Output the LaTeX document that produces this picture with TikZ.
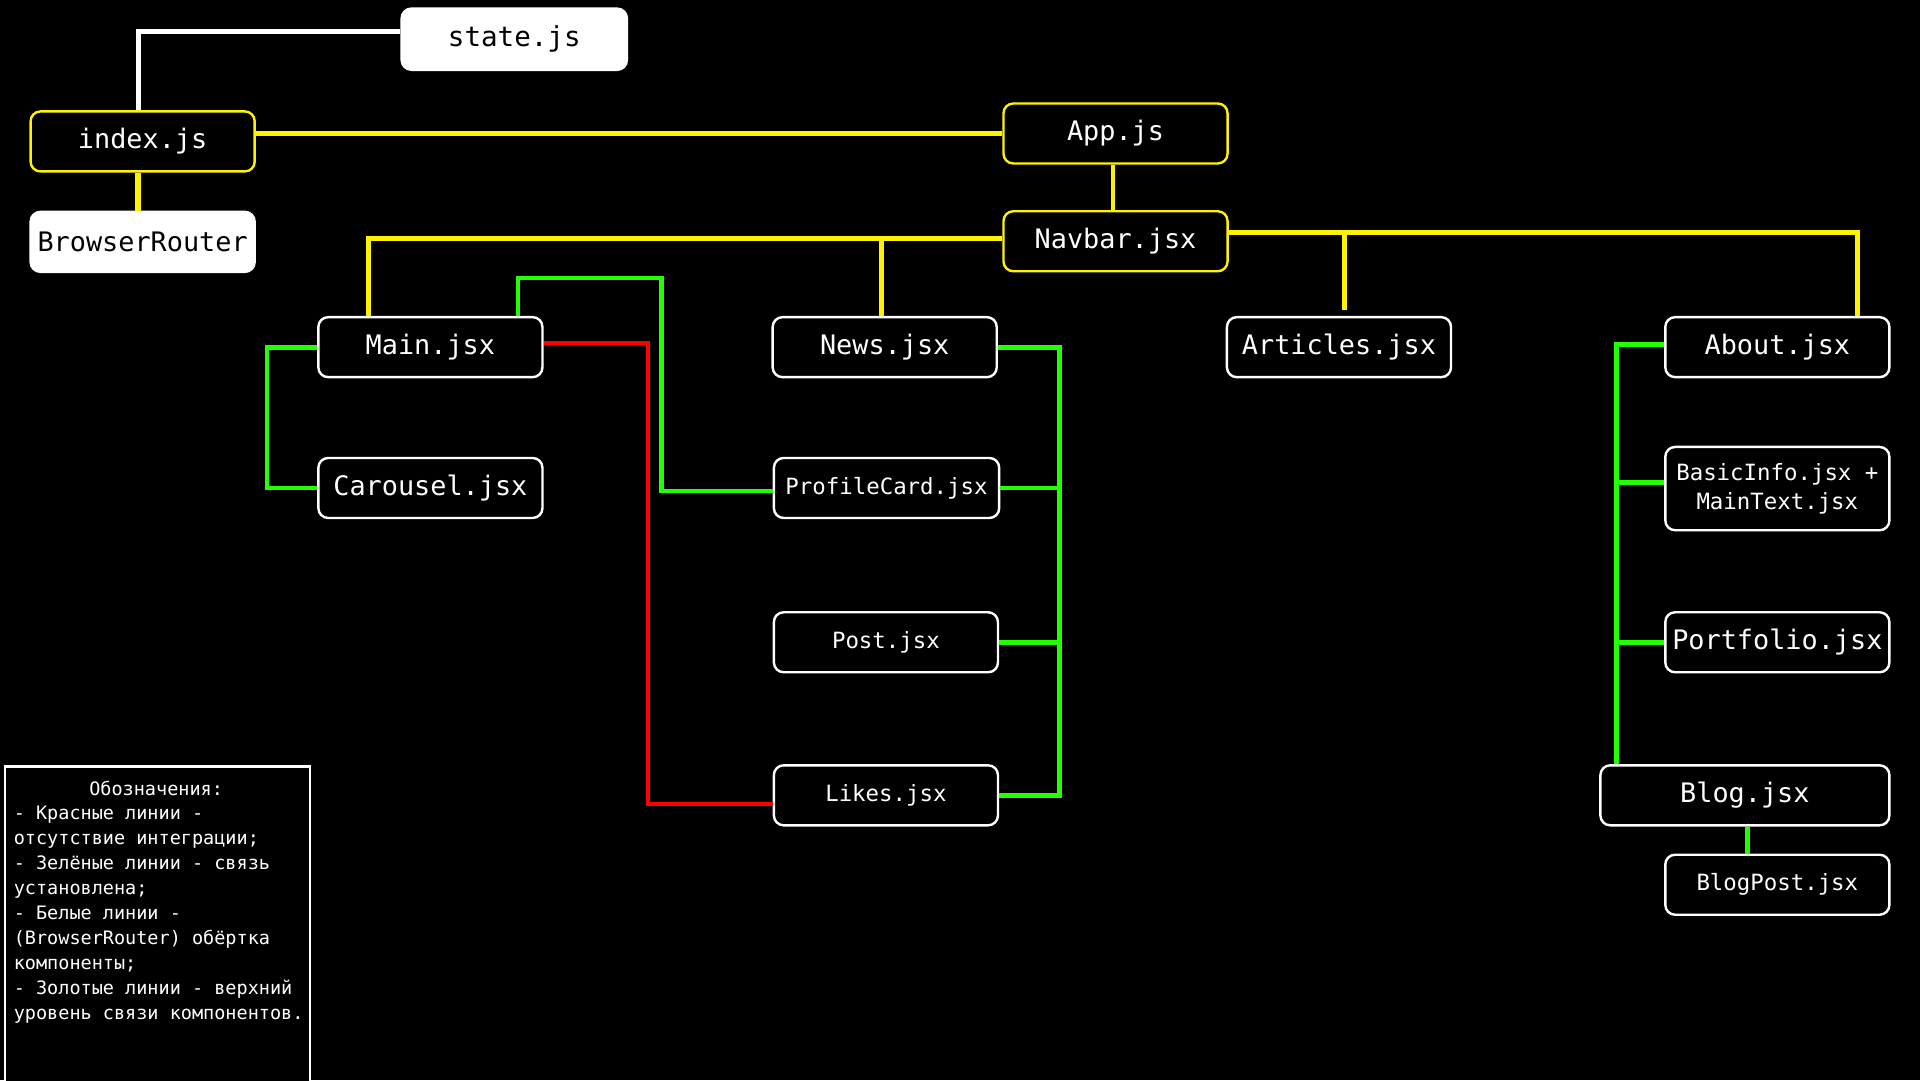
\documentclass[tikz,border=0pt]{standalone}
\usepackage{fontspec}
\setmonofont{DejaVu Sans Mono}
\usetikzlibrary{calc}
\definecolor{TreeGold}{HTML}{FFF200}
\definecolor{TreeGreen}{HTML}{22FF00}
\definecolor{TreeRed}{HTML}{FF0000}

\begin{document}
\begin{tikzpicture}[
  x=0.25mm, y=-0.25mm,
  file/.style={draw=white, fill=black, text=white, line width=1.4pt, rounded corners=2mm, minimum width=45.75mm, minimum height=12.25mm, inner sep=1mm, align=center, font=\ttfamily\fontsize{15.6}{18}\selectfont},
  smallfile/.style={file, font=\ttfamily\fontsize{13}{17}\selectfont},
  rootfile/.style={file, draw=TreeGold},
  paperfile/.style={file, draw=white, fill=white, text=black},
  legendframe/.style={draw=white, fill=black, line width=1.4pt, minimum width=62.25mm, minimum height=70mm, inner sep=0pt},
  legendtext/.style={text=white, inner sep=0pt, font=\ttfamily\fontsize{10.75}{14.5}\selectfont},
  goldline/.style={TreeGold, line width=2.8pt},
  greenline/.style={TreeGreen, line width=2.8pt},
  redline/.style={TreeRed, line width=2.6pt},
  wrapline/.style={white, line width=2.8pt},
]
\useasboundingbox (0,0) rectangle (1568,882);
\clip (0,0) rectangle (1568,882);
\fill[black] (0,0) rectangle (1568,882);

% entry files
\node[paperfile, minimum width=46mm, minimum height=12.5mm, font=\ttfamily\fontsize{16}{18}\selectfont] (state) at (420,32) {state.js};
\node[rootfile] (index) at (116.5,115.5) {index.js};
\node[paperfile] (router) at (116.5,197.5) {BrowserRouter};
\node[rootfile] (app) at (911,109) {App.js};
\node[rootfile] (navbar) at (911,197) {Navbar.jsx};

% pages
\node[file] (main) at (351.5,283.5) {Main.jsx};
\node[file] (news) at (722.5,283.5) {News.jsx};
\node[file] (articles) at (1093.5,283.5) {Articles.jsx};
\node[file] (about) at (1451.5,283.5) {About.jsx};

% components
\node[file] (carousel) at (351.5,398.5) {Carousel.jsx};
\node[smallfile, minimum width=46mm] (profile) at (724,398.5) {ProfileCard.jsx};
\node[smallfile] (post) at (723.5,524.5) {Post.jsx};
\node[smallfile] (likes) at (723.5,649.5) {Likes.jsx};
\node[smallfile, minimum height=17mm] (basic) at (1451.5,399) {BasicInfo.jsx +\\MainText.jsx};
\node[file] (portfolio) at (1451.5,524.5) {Portfolio.jsx};
\node[file, minimum width=59mm] (blog) at (1425,649.5) {Blog.jsx};
\node[smallfile] (blogpost) at (1451.5,722.5) {BlogPost.jsx};

% legend
\node[legendframe, anchor=north west] (legend) at (3,625) {};
\node[legendtext] (legtitle) at (127.5,644) {Обозначения:};
\node[legendtext, anchor=north west, align=left] (legbody) at (11,658) {- Красные линии -\\отсутствие интеграции;\\- Зелёные линии - связь\\установлена;\\- Белые линии -\\(BrowserRouter) обёртка\\компоненты;\\- Золотые линии - верхний\\уровень связи компонентов.};

\coordinate (carbus) at (218,0);
\coordinate (cardbend) at (540,227);
\coordinate (redbus) at (529,0);
\coordinate (newsbus) at (865,0);
\coordinate (aboutbus) at (1320,0);

% white
\draw[wrapline] ([shift={(-3.5,0)}]index.north) |- ([shift={(0,-6)}]state.west);

% gold
\draw[goldline] (app.west) -- (app.west -| index.east);
\draw[goldline, line width=3.6pt] ([shift={(-3.5,0)}]index.south) -- ([shift={(-3.5,0)}]router.north);
\draw[goldline, line width=2.1pt] ([shift={(-2,0)}]app.south) -- ([shift={(-2,0)}]navbar.north);
\draw[goldline] ([shift={(0,-2)}]navbar.west) -| ([shift={(-50.5,0)}]main.north);
\draw[goldline] ([shift={(-2.5,0)}]news.north) -- ++(0,-64);
\draw[goldline] ([shift={(0,-7)}]navbar.east) -| ([shift={(65.5,0)}]about.north);
\draw[goldline] ([shift={(4.5,-5)}]articles.north) -- ++(0,-64);

% green
\draw[greenline] (main.west) -| (carbus |- carousel.west) -- (carousel.west);
\draw[greenline] ([shift={(71.5,0)}]main.north) |- (cardbend) |- ([shift={(0,2.5)}]profile.west);
\draw[greenline] (news.east) -| (newsbus |- likes.east) -- (likes.east);
\draw[greenline] (profile.east) -- (newsbus |- profile.east);
\draw[greenline] (post.east) -- (newsbus |- post.east);
\draw[greenline] ([shift={(0,-2)}]about.west) -| (aboutbus |- blog.north);
\draw[greenline] ([shift={(0,-5)}]basic.west) -- ++(-40,0);
\draw[greenline] (portfolio.west) -- (aboutbus |- portfolio.west);
\draw[greenline] ([shift={(2,0)}]blog.south) -- ([shift={(2,0)}]blogpost.north -| blog.south);

% red
\draw[redline] ([shift={(0,-3.5)}]main.east) -| ($(redbus |- likes.west)+(0,7)$) -- ([shift={(0,7)}]likes.west);
\end{tikzpicture}
\end{document}
